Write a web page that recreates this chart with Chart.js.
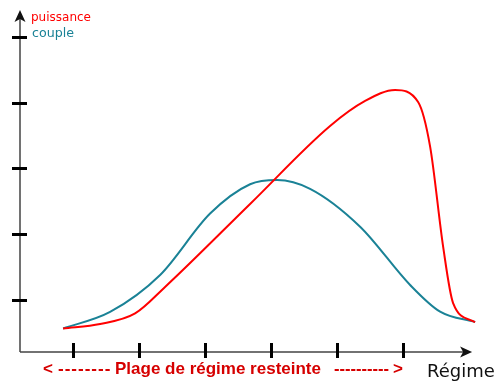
<!DOCTYPE html>
<html>
<head>
<meta charset="utf-8">
<script src="https://cdn.jsdelivr.net/npm/chart.js@4/dist/chart.umd.min.js"></script>
<style>
  html, body { margin: 0; padding: 0; background: #fff; }
  #wrap { width: 500px; height: 391px; position: relative; }
</style>
</head>
<body>
<div id="wrap"><canvas id="chart" width="500" height="391"></canvas></div>
<script>
// --- Données (unités arbitraires : régime en x, valeur en y) ---
const xTicks = [1, 2, 3, 4, 5, 6];
const yTicks = [1, 2, 3, 4, 5];

const puissanceX = [0.853, 1.414, 1.944, 2.398, 3.686, 4.898, 5.429, 5.883, 6.232, 6.414, 6.611, 6.762, 7.095];
const puissanceY = [0.567, 0.635, 0.795, 1.198, 2.460, 3.646, 4.027, 4.194, 4.011, 3.332, 1.811, 0.954, 0.661];

const coupleX = [0.853, 1.565, 2.323, 3.080, 3.686, 4.095, 4.595, 5.353, 6.111, 6.565, 7.095];
const coupleY = [0.567, 0.818, 1.380, 2.314, 2.760, 2.825, 2.691, 2.115, 1.228, 0.822, 0.665];

const legendLabels = ['puissance', 'couple'];
const axisTitle = 'Régime';
const rangeLabel = 'Plage de régime resteinte';

const RED = '#ff0000';
const TEAL = '#1a8296';

const toPoints = (xs, ys) => xs.map((x, i) => ({ x: x, y: ys[i] }));

// --- Axes, graduations et textes ---
const decorPlugin = {
    id: 'decor',
    afterDraw(chart) {
        const c = chart.ctx;
        const xs = chart.scales.x;
        const ys = chart.scales.y;
        const x0 = xs.getPixelForValue(xs.min);
        const y0 = ys.getPixelForValue(ys.min);
        const yTop = ys.getPixelForValue(ys.max);
        const xEnd = xs.getPixelForValue(7.05);

        c.save();
        // lignes d'axes
        c.strokeStyle = '#444';
        c.lineWidth = 1.5;
        c.beginPath();
        c.moveTo(x0, y0);
        c.lineTo(x0, yTop + 4);
        c.moveTo(x0, y0);
        c.lineTo(xEnd - 4, y0);
        c.stroke();

        // flèches
        c.fillStyle = '#111';
        c.beginPath();
        c.moveTo(x0, yTop);
        c.lineTo(x0 + 5.5, yTop + 12);
        c.lineTo(x0, yTop + 9);
        c.lineTo(x0 - 5.5, yTop + 12);
        c.closePath();
        c.fill();
        c.beginPath();
        c.moveTo(xEnd, y0);
        c.lineTo(xEnd - 12, y0 - 5.5);
        c.lineTo(xEnd - 9, y0);
        c.lineTo(xEnd - 12, y0 + 5.5);
        c.closePath();
        c.fill();

        // graduations
        c.strokeStyle = '#000';
        c.lineWidth = 3;
        c.beginPath();
        yTicks.forEach(v => {
            const py = Math.round(ys.getPixelForValue(v)) + 0.5;
            c.moveTo(x0 - 8, py);
            c.lineTo(x0 + 7, py);
        });
        xTicks.forEach(v => {
            const px = Math.round(xs.getPixelForValue(v)) + 0.5;
            c.moveTo(px, y0 - 9);
            c.lineTo(px, y0 + 6);
        });
        c.stroke();

        // légende
        c.textBaseline = 'middle';
        c.textAlign = 'left';
        c.font = '13px "DejaVu Sans", sans-serif';
        c.fillStyle = RED;
        c.fillText(legendLabels[0], 31, 18, 60);
        c.fillStyle = TEAL;
        c.fillText(legendLabels[1], 32, 34, 42);

        // titre de l'axe
        c.fillStyle = '#111';
        c.font = '18px "DejaVu Sans", sans-serif';
        c.fillText(axisTitle, 427, 372, 70);

        // plage de régime
        c.fillStyle = '#d60000';
        c.font = 'bold 17px "Liberation Sans", sans-serif';
        c.fillText('<', 43, 369);
        c.fillText(rangeLabel, 115, 369, 214);
        c.fillText('>', 393, 369);
        c.letterSpacing = '1px';
        c.fillText('--------', 58, 369, 55);
        c.letterSpacing = '0px';
        c.fillText('----------', 334, 369, 55);
        c.restore();
    }
};

const ctx = document.getElementById('chart').getContext('2d');
new Chart(ctx, {
    type: 'line',
    data: {
        datasets: [
            {
                label: legendLabels[0],
                data: toPoints(puissanceX, puissanceY),
                borderColor: RED,
                borderWidth: 2,
                pointRadius: 0,
                cubicInterpolationMode: 'monotone',
                fill: false
            },
            {
                label: legendLabels[1],
                data: toPoints(coupleX, coupleY),
                borderColor: TEAL,
                borderWidth: 2,
                pointRadius: 0,
                cubicInterpolationMode: 'monotone',
                fill: false
            }
        ]
    },
    options: {
        responsive: false,
        animation: false,
        clip: false,
        layout: { padding: { left: 20, right: 18, top: 10, bottom: 39 } },
        scales: {
            x: { type: 'linear', min: 0.2, max: 7.2, display: false },
            y: { type: 'linear', min: 0.209, max: 5.41, display: false }
        },
        plugins: { legend: { display: false }, tooltip: { enabled: false } }
    },
    plugins: [decorPlugin]
});
</script>
</body>
</html>
